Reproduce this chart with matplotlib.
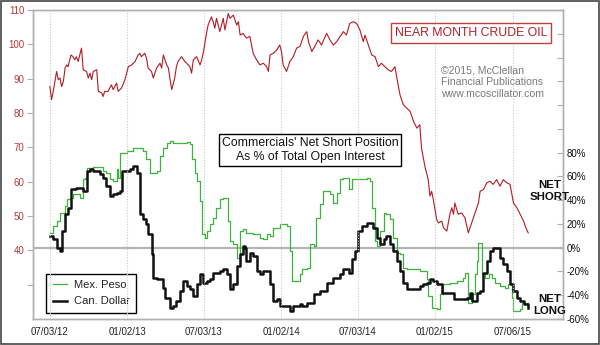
import matplotlib
matplotlib.use("Agg")
import matplotlib.pyplot as plt
import pandas as pd

plt.rcParams['font.family'] = ['Liberation Sans', 'DejaVu Sans']

crude_dates = [
 "2012-07-03","2012-07-07","2012-07-11","2012-07-19","2012-07-23","2012-07-27","2012-07-31","2012-08-04",
 "2012-08-08","2012-08-12","2012-08-15","2012-08-22","2012-08-27","2012-08-31","2012-09-04","2012-09-08",
 "2012-09-12","2012-09-16","2012-09-20","2012-09-28","2012-10-02","2012-10-06","2012-10-10","2012-10-14",
 "2012-10-22","2012-10-26","2012-11-03","2012-11-06","2012-11-10","2012-11-18","2012-11-26","2012-11-30",
 "2012-12-08","2012-12-12","2012-12-20","2012-12-28","2013-01-05","2013-01-13","2013-01-21","2013-01-28",
 "2013-02-01","2013-02-05","2013-02-13","2013-02-17","2013-02-21","2013-03-01","2013-03-05","2013-03-13",
 "2013-03-21","2013-03-25","2013-03-29","2013-04-06","2013-04-10","2013-04-14","2013-04-18","2013-04-25",
 "2013-04-29","2013-05-03","2013-05-11","2013-05-19",
 "2013-05-23","2013-05-31","2013-06-04","2013-06-08","2013-06-16","2013-06-24","2013-06-28","2013-07-03",
 "2013-07-08","2013-07-13","2013-07-21","2013-07-25","2013-07-29","2013-08-02","2013-08-10","2013-08-18",
 "2013-08-22","2013-08-30","2013-09-03","2013-09-11","2013-09-19","2013-09-23","2013-09-27","2013-10-04",
 "2013-10-12","2013-10-20","2013-10-28","2013-11-05","2013-11-13","2013-11-21","2013-11-29","2013-12-03",
 "2013-12-07","2013-12-15","2013-12-23","2013-12-30","2014-01-03","2014-01-07","2014-01-15","2014-01-23",
 "2014-01-31","2014-02-08","2014-02-16","2014-02-24","2014-03-04","2014-03-08","2014-03-16",
 "2014-03-23","2014-03-31","2014-04-08","2014-04-20","2014-04-28","2014-05-06","2014-05-14","2014-05-22",
 "2014-05-30","2014-06-06","2014-06-14","2014-06-22","2014-06-30","2014-07-08","2014-07-16","2014-07-20",
 "2014-07-28","2014-08-05","2014-08-13","2014-08-21","2014-08-28","2014-09-05","2014-09-13","2014-09-21",
 "2014-09-29","2014-10-03","2014-10-11","2014-10-19","2014-10-27","2014-11-04","2014-11-12","2014-11-20",
 "2014-11-27","2014-12-01",
 "2014-12-09","2014-12-17","2014-12-21","2014-12-25","2014-12-29","2015-01-06","2015-01-10","2015-01-18",
 "2015-01-22","2015-01-30","2015-02-07","2015-02-11","2015-02-15","2015-02-18","2015-02-26","2015-03-06",
 "2015-03-14","2015-03-22","2015-03-30","2015-04-07","2015-04-15","2015-04-19","2015-04-27","2015-05-05",
 "2015-05-13","2015-05-20","2015-05-28","2015-06-05","2015-06-13","2015-06-21","2015-06-29","2015-07-07",
 "2015-07-15","2015-07-23","2015-07-31","2015-08-07","2015-08-11"]
crude_vals = [
 87.7,83.9,86.3,92.1,89.7,90.2,87.7,89.2,93.1,94,93.5,96.9,96.4,95.5,96.4,95,
 96.9,98.9,92.6,92.1,90.2,91.6,89.7,92.1,92.6,86.3,85.8,84.8,86.3,86.3,88.2,86.8,
 88.7,86.3,87.3,89.7,93.5,94,95,96.9,97.4,96.4,97.4,96,93.1,92.1,90.2,93.1,
 94.5,93.1,96.9,94,93.1,89.7,86.8,90.2,93.5,95,96.4,95,
 94.5,93.5,91.6,95.5,96.4,94,95.5,98.4,102.3,105.6,108,106.6,104.7,107.6,103.7,107.6,
 104.2,109,107.6,108.5,105.6,106.6,102.7,103.2,101.8,102.3,97.4,95.5,94,94.5,93.5,92.1,
 96.9,97.4,98.4,99.8,97.9,94,92.1,95,96.4,98.9,99.4,102.3,103.7,100.8,97.9,
 99.4,101.3,99.8,103.2,101.3,99.8,100.8,102.3,103.7,102.7,106.1,106.6,106.1,104.2,100.8,102.7,
 99.8,96.9,96.4,93.5,94.5,93.5,92.6,92.1,93.5,90.6,85.3,82.4,81.4,80.5,77.6,75.6,
 76.6,69.8,
 64.5,60.6,55.8,57.2,54.8,49,48,48.5,46.6,45.6,50.9,52.4,50.5,53.8,50.5,50.9,
 49.5,45.1,48,50.9,53.8,57.2,57.7,59.7,60.1,59.2,60.6,58.7,60.6,59.7,59.2,53.8,
 52.4,50.5,48.5,46.1,45.1]

peso_dates = ["2012-07-03","2012-07-11","2012-07-19","2012-07-27","2012-08-04","2012-08-08","2012-08-12",
 "2012-08-19","2012-08-27","2012-09-04","2012-09-12","2012-09-20","2012-09-24","2012-09-28","2012-10-14",
 "2012-10-30","2012-11-06","2012-11-14","2012-11-22","2012-11-30","2012-12-08","2012-12-12","2012-12-16",
 "2013-01-01","2013-01-17","2013-02-01","2013-02-09","2013-02-17","2013-02-25","2013-03-05","2013-03-13",
 "2013-03-21","2013-03-29","2013-04-06","2013-04-14","2013-04-21","2013-05-07","2013-05-23","2013-05-31",
 "2013-06-04","2013-06-12","2013-06-16","2013-06-24","2013-06-28","2013-07-06","2013-07-10","2013-07-17",
 "2013-07-25","2013-08-02","2013-08-10","2013-08-18","2013-08-26","2013-08-30","2013-09-03","2013-09-11",
 "2013-09-19","2013-09-27","2013-10-04","2013-10-12","2013-10-28","2013-11-13","2013-11-21","2013-11-29",
 "2013-12-07","2013-12-15","2013-12-30","2014-01-15","2014-01-23","2014-01-27","2014-02-08","2014-02-16",
 "2014-02-20","2014-03-04","2014-03-12","2014-03-20","2014-03-27","2014-04-04","2014-04-12","2014-04-28",
 "2014-05-06","2014-05-14","2014-05-22","2014-05-30","2014-06-11","2014-06-19","2014-06-30","2014-07-20",
 "2014-07-24","2014-08-01","2014-08-05","2014-08-13","2014-08-17","2014-08-25","2014-09-02","2014-09-09",
 "2014-09-17","2014-09-25","2014-10-03","2014-10-11","2014-10-19","2014-10-27","2014-11-12","2014-11-28",
 "2014-12-13","2014-12-17","2014-12-25","2015-01-06","2015-01-14","2015-01-22","2015-02-07","2015-02-22",
 "2015-03-10","2015-03-14","2015-03-22","2015-03-30","2015-04-07","2015-04-11","2015-04-15","2015-04-19",
 "2015-04-23","2015-05-01","2015-05-09","2015-05-16","2015-05-24","2015-06-05","2015-06-17","2015-06-25",
 "2015-07-03","2015-07-07","2015-07-23","2015-07-27","2015-08-11"]
peso_vals = [12.7,18.3,22.5,29.5,29.5,35,40.7,42,45,45,42,57.6,59,67.3,68,68,64.5,63.1,57.6,56.2,66,59,80,
 81.4,83.6,84.2,81.4,74.4,63.1,62.6,64.5,77.2,84.2,88.4,89.8,88.4,88.4,89,87,74.4,63.1,56.2,39.3,11.3,
 8.4,14,19.7,25.3,33.7,40.7,42.1,42.1,22.5,5.6,2.8,-8.4,14,15.4,12.7,11.2,8.4,7,11.2,9.8,16.9,19.7,
 18.3,-2.8,-28,-28,-22.4,-18.2,-16.8,2.8,1.4,25.3,36.5,47.7,44.9,38,46.3,57.6,59,49.2,57.6,57.6,57.6,
 59,56.2,33.7,5.6,1.4,14,29.5,28.1,23.9,8.4,-4.2,-5.6,-16.8,-18.2,-18.2,-19.7,-26.7,-40.7,-50.5,-51.9,
 -39.3,-30.9,-29.5,-28,-25.3,-21,-46.3,-39.3,-22.4,-11.2,4.2,4.2,-22.4,-25.3,-22.4,-25.3,-29.5,-32.3,
 -33.7,-30.9,-42.1,-53.3,-51.9,-46.3,-46.3]

cad_dates = ["2012-07-03","2012-07-11","2012-07-19","2012-07-27","2012-07-31","2012-08-08","2012-08-15",
 "2012-08-23","2012-09-04","2012-09-16","2012-09-20","2012-09-28","2012-10-06","2012-10-14","2012-10-30",
 "2012-11-06","2012-11-14","2012-11-22","2012-11-30","2012-12-08","2012-12-16","2012-12-20","2012-12-28",
 "2013-01-09","2013-01-17","2013-01-25","2013-02-01","2013-02-09","2013-02-17","2013-02-21","2013-03-01",
 "2013-03-05","2013-03-13","2013-03-21","2013-03-29","2013-04-02","2013-04-14","2013-04-21","2013-04-29",
 "2013-05-07","2013-05-15","2013-05-23","2013-05-31","2013-06-08","2013-06-16","2013-06-24","2013-07-02",
 "2013-07-10","2013-07-17","2013-07-25","2013-08-10","2013-08-18","2013-08-26","2013-09-03","2013-09-11",
 "2013-09-19","2013-09-27","2013-10-04","2013-10-08","2013-10-12","2013-10-20","2013-10-28","2013-11-05",
 "2013-11-13","2013-11-21","2013-11-29","2013-12-07","2013-12-15","2013-12-23","2013-12-30","2014-01-15",
 "2014-01-23","2014-01-31","2014-02-08","2014-02-16","2014-02-20","2014-03-04","2014-03-20","2014-04-04",
 "2014-04-20","2014-05-06","2014-05-22","2014-05-30","2014-06-11","2014-06-19","2014-06-26","2014-07-04",
 "2014-07-12","2014-07-24","2014-08-01","2014-08-09","2014-08-17","2014-08-25","2014-09-02","2014-09-09",
 "2014-09-17","2014-09-25","2014-10-03","2014-10-11","2014-10-19","2014-10-27","2014-11-12","2014-11-28",
 "2014-12-05","2014-12-13","2014-12-21","2014-12-29","2015-01-06","2015-01-18","2015-01-30","2015-02-15",
 "2015-03-02","2015-03-18","2015-03-26","2015-03-30","2015-04-11","2015-04-19","2015-04-27","2015-05-05",
 "2015-05-13","2015-05-20","2015-05-28","2015-06-05","2015-06-13","2015-06-21","2015-06-29","2015-07-07",
 "2015-07-15","2015-07-23","2015-07-31","2015-08-11"]
cad_vals = [9.8,7,0,-2.8,14,28.1,33.7,49.2,50.6,50.6,47.7,64.6,66,64.6,61.8,59,51.9,43.5,44.9,46.3,47.7,
 64.6,64.6,66,68.8,63.2,28.1,23.9,19.7,11.2,-5.6,-25.3,-26.7,-26.7,-33.7,-42.1,-50.5,-49.1,-44.9,-36.5,
 -28,-32.3,-35,-40.7,-30.9,-22.4,-29.5,-28,-26.7,-21,-19.7,-18.3,-22.4,-35,-30.9,-15.4,-5.6,1.4,0,
 -11.2,-4.2,-7,-19.7,-22.4,-19.7,-19.7,-30.9,-44.9,-43.5,-49.1,-49.1,-53.3,-49.1,-49.1,-47.7,-49.1,
 -46.3,-39.3,-36.5,-29.5,-25.3,-22.4,-18.2,-21,-9.8,-2.8,14,18.3,21.1,21.1,16.9,8.4,2.8,7,9.8,2.8,
 -2.8,-11.2,-19.7,-29.5,-35,-35,-32.3,-30.9,-29.5,-26.7,-28,-30.9,-37.9,-37.9,-43.5,-43.5,-42.1,-37.9,
 -44.9,-37.9,-36.5,-21,-11.2,-2.8,0,0,-8.4,-14,-19.7,-30.9,-36.5,-42.1,-44.9,-47.7,-50.5]

tick_dates = ["2012-07-03","2013-01-02","2013-07-03","2014-01-02","2014-07-03","2015-01-02","2015-07-06"]
tick_labels = ["07/03/12","01/02/13","07/03/13","01/02/14","07/03/14","01/02/15","07/06/15"]
left_ticks = [40, 50, 60, 70, 80, 90, 100, 110]
right_ticks = [-60, -40, -20, 0, 20, 40, 60, 80]

fig = plt.figure(figsize=(6.0, 3.45), dpi=100)
fig.patch.set_facecolor('white')
ax = fig.add_axes([0.055, 0.0754, 0.883, 0.8956])
ax2 = ax.twinx()
ax.set_zorder(2)
ax.patch.set_visible(False)

cd = pd.to_datetime(crude_dates)
pdt = pd.to_datetime(peso_dates)
cdt = pd.to_datetime(cad_dates)

spine_c = '#b0b0b0'
for a in (ax, ax2):
    for s in a.spines.values():
        s.set_color(spine_c)
        s.set_linewidth(1.0)

for d in pd.to_datetime(tick_dates):
    ax.axvline(d, color='#c8c8c8', lw=0.8, ls=(0, (1, 1.5)), zorder=0)

ax2.axhline(0, color='#b4b4b4', lw=1.6, zorder=1)
ax2.plot(pdt, peso_vals, color='#3cb43c', lw=0.9, drawstyle='steps-post', label='Mex. Peso', zorder=3)
ax2.plot(cdt, cad_vals, color='#111111', lw=1.8, drawstyle='steps-post', label='Can. Dollar', zorder=4)
ax.plot(cd, crude_vals, color='#b31b24', lw=0.8, zorder=5)

ax.set_xlim(pd.Timestamp("2012-05-24"), pd.Timestamp("2015-11-01"))
ax.set_ylim(20, 110)
ax2.set_ylim(-60, 200)

ax.set_xticks(pd.to_datetime(tick_dates))
ax.set_xticklabels(tick_labels)
ax.tick_params(axis='x', length=0, labelsize=7, labelcolor='#222222', pad=6)

ax.set_yticks([30] + left_ticks)
ax.set_yticklabels([''] + [str(v) for v in left_ticks])
ax.tick_params(axis='y', direction='out', length=4, color=spine_c, labelsize=7,
               labelcolor='#b83a3a', pad=2)

ax2.set_yticks(list(range(-60, 201, 20)))
ax2.set_yticklabels([f"{v}%" if v in right_ticks else '' for v in range(-60, 201, 20)])
ax2.tick_params(axis='y', direction='in', length=4, color=spine_c, labelsize=7,
                labelcolor='#111111', pad=3)

leg = ax2.legend(loc='lower left', bbox_to_anchor=(0.0245, 0.019), borderaxespad=0.0,
                 frameon=True, fancybox=False, edgecolor='black', fontsize=8, handlelength=1.3,
                 handletextpad=0.6, borderpad=0.6, labelspacing=0.55, framealpha=1)
leg.get_frame().set_linewidth(1.0)
for t in leg.get_texts():
    t.set_color('#222222')
leg.set_zorder(10)

ax.text(0.523, 0.547, "Commercials' Net Short Position\nAs % of Total Open Interest",
        transform=ax.transAxes, ha='center', va='center', fontsize=8.8, color='#111111',
        linespacing=1.25, zorder=10,
        bbox=dict(boxstyle='square,pad=0.25', facecolor='white', edgecolor='black', lw=1.0))

ax.text(0.827, 0.926, "NEAR MONTH CRUDE OIL", transform=ax.transAxes, ha='center', va='center',
        fontsize=8.8, color='#b02025', zorder=10,
        bbox=dict(boxstyle='square,pad=0.3', facecolor='white', edgecolor='#c04040', lw=1.0))

ax.text(0.770, 0.820, "\u00a92015, McClellan\nFinancial Publications\nwww.mcoscillator.com",
        transform=ax.transAxes, ha='left', va='top', fontsize=7.6, color='#7a7a7a',
        linespacing=1.2, zorder=10)

fig.text(0.9167, 0.446, "NET\nSHORT", ha='center', va='center', fontsize=8.2, fontweight='bold',
         color='#111111', linespacing=1.3)
fig.text(0.9167, 0.116, "NET\nLONG", ha='center', va='center', fontsize=8.2, fontweight='bold',
         color='#111111', linespacing=1.3)

border = plt.Rectangle((0.001, 0.002), 0.997, 0.996, transform=fig.transFigure, fill=False,
                       edgecolor='#444444', lw=1.2)
fig.patches.append(border)

fig.savefig("out.png", dpi=100)
